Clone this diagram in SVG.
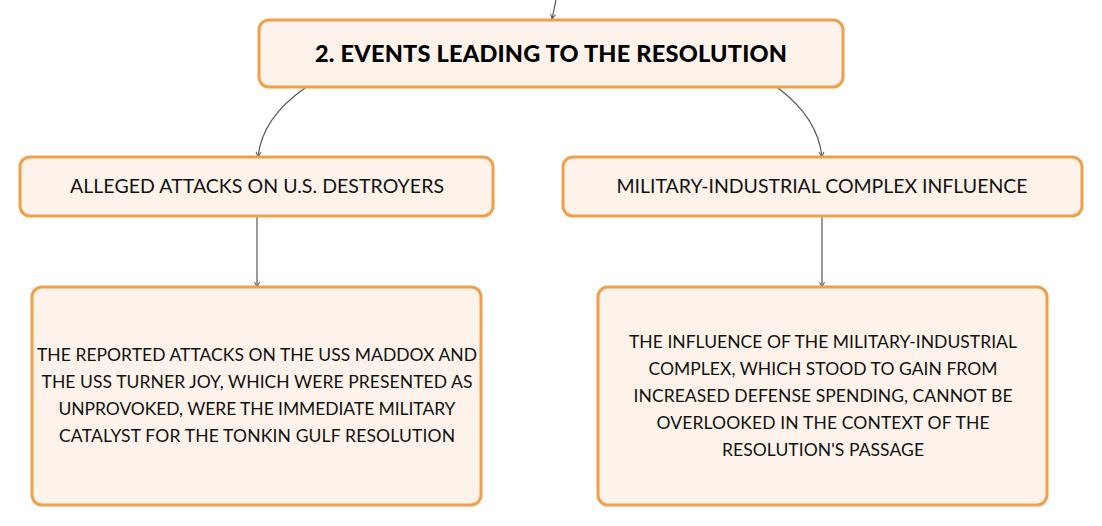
<svg xmlns="http://www.w3.org/2000/svg" width="1102" height="526" viewBox="0 0 1102 526">
<style>
.node{fill:#fdf3ea;stroke:#f0a04b;stroke-width:3}
.t{font-family:Lato,"Noto Sans",sans-serif;font-size:17.5px;fill:#111;text-anchor:middle}
.t2{font-family:Lato,"Noto Sans",sans-serif;font-size:19.5px;fill:#111;text-anchor:middle}
.title{font-family:Lato,"Noto Sans",sans-serif;font-size:23.5px;font-weight:900;fill:#000;text-anchor:middle}
.edge{fill:none;stroke:#555;stroke-width:1.2;marker-end:url(#arr)}
</style>
<defs>
<marker id="arr" markerWidth="8" markerHeight="8" refX="6" refY="4" orient="auto" markerUnits="userSpaceOnUse">
<path d="M1,1.5 L6,4 L1,6.5" fill="none" stroke="#555" stroke-width="1"/>
</marker>
</defs>
<rect width="1102" height="526" fill="#fff"/>
<g id="connectors">
<path class="edge" d="M556,0 L552,19"/>
<path class="edge" d="M305,88 Q262,118 258,157"/>
<path class="edge" d="M778,88 Q818,118 822,157"/>
<path class="edge" d="M257,217 L257,287"/>
<path class="edge" d="M822,217 L822,287"/>
</g>
<g id="n-root">
<rect class="node" x="259" y="20" width="584" height="67" rx="10"/>
<text class="title" x="551" y="62" textLength="472" lengthAdjust="spacing">2. EVENTS LEADING TO THE RESOLUTION</text>
</g>
<g id="n-attacks">
<rect class="node" x="20" y="157" width="473" height="59" rx="10"/>
<text class="t2" x="257" y="193" textLength="374" lengthAdjust="spacing">ALLEGED ATTACKS ON U.S. DESTROYERS</text>
</g>
<g id="n-mic">
<rect class="node" x="563" y="157" width="519" height="59" rx="10"/>
<text class="t2" x="822" y="193" textLength="411" lengthAdjust="spacing">MILITARY-INDUSTRIAL COMPLEX INFLUENCE</text>
</g>
<g id="n-attacks-detail">
<rect class="node" x="32" y="287" width="449" height="218" rx="10"/>
<text class="t" x="257" y="361" textLength="440" lengthAdjust="spacing">THE REPORTED ATTACKS ON THE USS MADDOX AND</text>
<text class="t" x="257" y="388" textLength="431" lengthAdjust="spacing">THE USS TURNER JOY, WHICH WERE PRESENTED AS</text>
<text class="t" x="257" y="415" textLength="397" lengthAdjust="spacing">UNPROVOKED, WERE THE IMMEDIATE MILITARY</text>
<text class="t" x="257" y="442" textLength="396" lengthAdjust="spacing">CATALYST FOR THE TONKIN GULF RESOLUTION</text>
</g>
<g id="n-mic-detail">
<rect class="node" x="598" y="287" width="449" height="218" rx="10"/>
<text class="t" x="823" y="348" textLength="388" lengthAdjust="spacing">THE INFLUENCE OF THE MILITARY-INDUSTRIAL</text>
<text class="t" x="823" y="375" textLength="349" lengthAdjust="spacing">COMPLEX, WHICH STOOD TO GAIN FROM</text>
<text class="t" x="823" y="402" textLength="379" lengthAdjust="spacing">INCREASED DEFENSE SPENDING, CANNOT BE</text>
<text class="t" x="823" y="429" textLength="333" lengthAdjust="spacing">OVERLOOKED IN THE CONTEXT OF THE</text>
<text class="t" x="823" y="456" textLength="202" lengthAdjust="spacing">RESOLUTION'S PASSAGE</text>
</g>
</svg>
